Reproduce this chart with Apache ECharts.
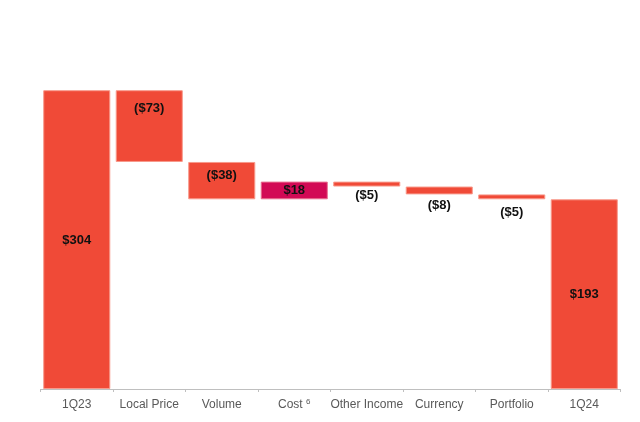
<!DOCTYPE html>
<html><head><meta charset="utf-8">
<script src="https://cdn.jsdelivr.net/npm/echarts@6/dist/echarts.min.js"></script>
<style>html,body{margin:0;padding:0;background:#fff}#c{width:640px;height:422px}</style>
</head><body><div id="c"></div>
<script>
const categories = ['1Q23', 'Local Price', 'Volume', 'Cost', 'Other Income', 'Currency', 'Portfolio', '1Q24'];
const deltas = [304, -73, -38, 18, -5, -8, -5, 193];
const isTotal = [true, false, false, false, false, false, false, true];
const valueLabels = ['$304', '($73)', '($38)', '$18', '($5)', '($8)', '($5)', '$193'];

const RED = '#f04a37', CRIMSON = '#d20a55';
const base = [], size = [];
let run = 0;
deltas.forEach((d, i) => {
  if (isTotal[i]) { base.push(0); size.push(d); run = d; }
  else if (d < 0) { run += d; base.push(run); size.push(-d); }
  else { base.push(run); size.push(d); run += d; }
});
const labelPos = [
  {position: 'inside', offset: [0, 1]},
  {position: 'insideTop', distance: 12},
  {position: 'insideTop', distance: 7},
  {position: 'inside'},
  {position: 'bottom', distance: 2},
  {position: 'bottom', distance: 5},
  {position: 'bottom', distance: 7},
  {position: 'inside'}
];
const chart = echarts.init(document.getElementById('c'));
chart.setOption({
  animation: false,
  grid: {left: 40.5, right: 19.5, top: 45, bottom: 33},
  xAxis: {
    type: 'category', data: categories,
    axisLine: {lineStyle: {color: '#bfbfbf', width: 1}},
    axisTick: {show: true, interval: 0, length: 3, lineStyle: {color: '#bfbfbf'}},
    axisLabel: {
      interval: 0,
      color: '#595959', fontSize: 12, lineHeight: 14, fontFamily: 'Liberation Sans, Arial, sans-serif', margin: 9,
      formatter: v => v === 'Cost' ? '{m|Cost }{sup|6}' : v,
      rich: {
        m: {fontSize: 12, lineHeight: 14, color: '#595959', fontFamily: 'Liberation Sans, Arial, sans-serif'},
        sup: {fontSize: 8, lineHeight: 8, verticalAlign: 'top', color: '#595959', fontFamily: 'Liberation Sans, Arial, sans-serif'}
      }
    }
  },
  yAxis: {type: 'value', min: 0, max: 350, show: false, splitLine: {show: false}},
  series: [
    {type: 'bar', stack: 'w', data: base, itemStyle: {color: 'transparent'}, barCategoryGap: '7.5%', silent: true},
    {type: 'bar', stack: 'w', barCategoryGap: '7.5%',
      data: size.map((v, i) => ({
        value: v,
        itemStyle: {color: i === 3 ? CRIMSON : RED, borderColor: i === 3 ? '#e8708f' : '#f89a8c', borderWidth: 1},
        label: Object.assign({show: true, formatter: valueLabels[i], color: '#111', fontWeight: 'bold', fontSize: 13,
          fontFamily: 'Liberation Sans, Arial, sans-serif'}, labelPos[i])
      }))
    }
  ]
});
</script></body></html>
